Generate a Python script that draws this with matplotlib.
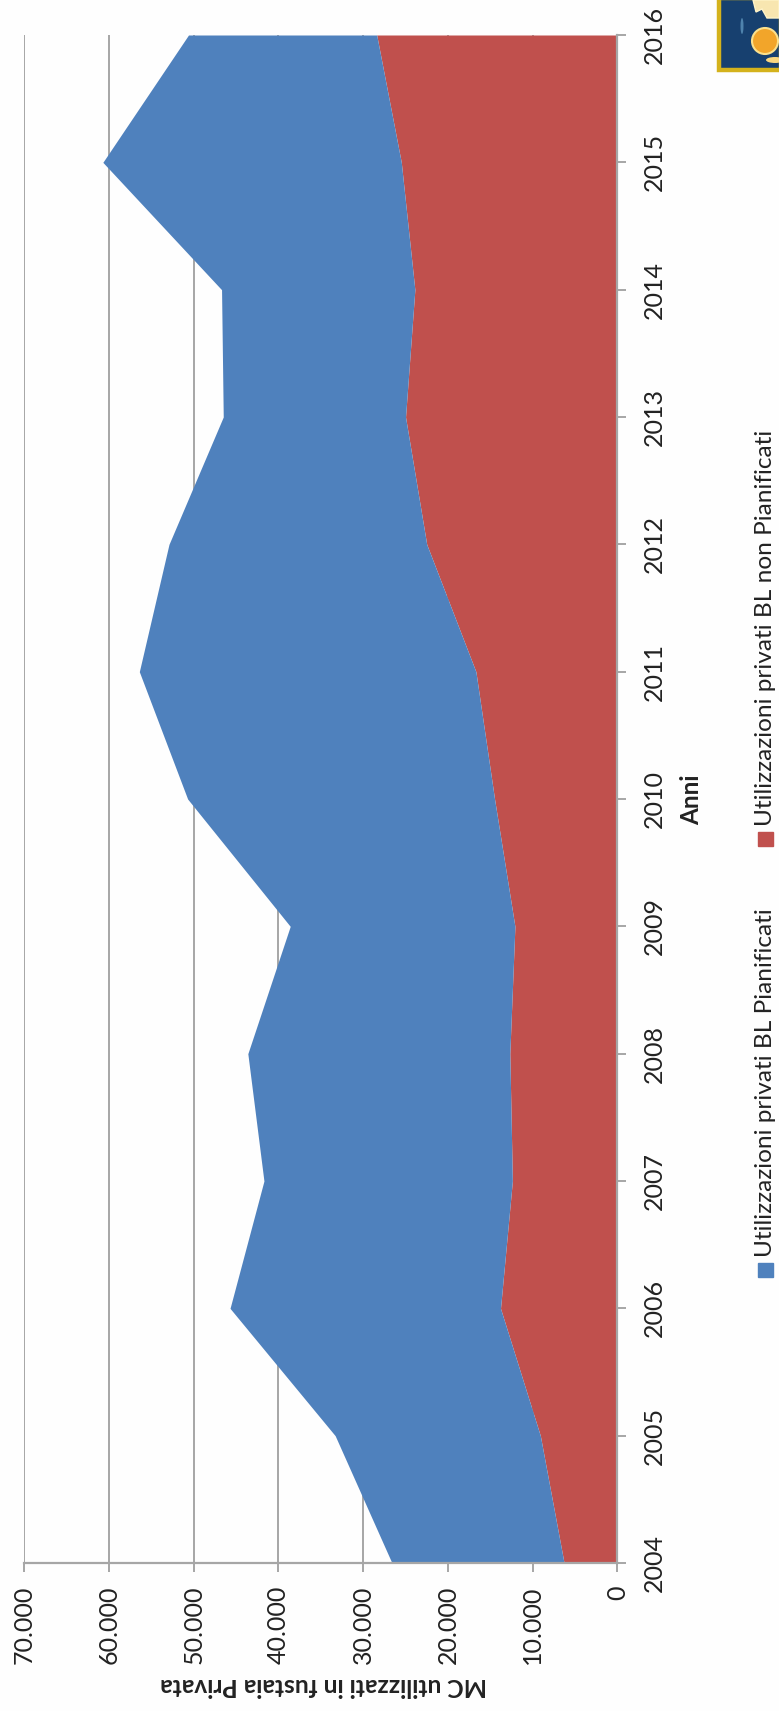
import matplotlib
matplotlib.use("Agg")
from matplotlib import pyplot as plt
from matplotlib.patches import Rectangle, Ellipse, Polygon

anni = [2004, 2005, 2006, 2007, 2008, 2009, 2010, 2011, 2012, 2013, 2014, 2015, 2016]
pianificati = [20300, 24200, 31900, 29300, 30900, 26500, 36200, 39700, 30400, 21500, 22800, 35200, 22200]
non_pianificati = [6300, 9100, 13800, 12400, 12700, 12100, 14500, 16700, 22500, 25000, 23900, 25500, 28400]
tick_valori = [0, 10000, 20000, 30000, 40000, 50000, 60000, 70000]
tick_etichette = ["0", "10.000", "20.000", "30.000", "40.000", "50.000", "60.000", "70.000"]

W, H = 779, 1711
plt.rcParams["font.family"] = ["Lato", "DejaVu Sans"]

fig = plt.figure(figsize=(W / 100, H / 100), dpi=100, facecolor="#fefefe")
# chart is turned on its side: values run right to left, years bottom to top
ax = fig.add_axes([24 / W, 1 - 1563 / H, (617.5 - 24) / W, (1563 - 35) / H], facecolor="#fefefe")

totale = [a + b for a, b in zip(pianificati, non_pianificati)]
ax.fill_betweenx(anni, 0, non_pianificati, color="#c0504d", lw=0, zorder=3)
ax.fill_betweenx(anni, non_pianificati, totale, color="#4f81bd", lw=0, zorder=3)

ax.set_xlim(70000, 0)
ax.set_ylim(2004, 2016)
ax.set_xticks(tick_valori)
ax.set_xticklabels(tick_etichette, rotation=90, fontsize=18, color="#222222")
ax.set_yticks(anni)
ax.set_yticklabels(anni, rotation=90, va="center", fontsize=18, color="#222222")
ax.yaxis.tick_right()
ax.xaxis.grid(True, color="#a6a6a6", lw=1.4, zorder=1)
ax.tick_params(axis="x", color="#a6a6a6", width=1.4, length=6.5, pad=9.5)
ax.tick_params(axis="y", color="#a6a6a6", width=1.4, length=6.5, pad=12)
for nome in ["top", "left"]:
    ax.spines[nome].set_visible(False)
for nome in ["bottom", "right"]:
    ax.spines[nome].set_color("#a6a6a6")
    ax.spines[nome].set_linewidth(1.6)
    ax.spines[nome].set_zorder(4)

fig.text(324 / W, 1 - 1685 / H, "MC utilizzati in fustaia Privata", rotation=180, fontsize=17.7,
         fontweight="bold", ha="center", va="center", color="#222222")
fig.text(692 / W, 1 - 800 / H, "Anni", rotation=90, fontsize=17.5, fontweight="bold",
         ha="center", va="center", color="#222222")

# legend is placed by hand, the text runs bottom to top
fig.patches.append(Rectangle((758 / W, 1 - 1277 / H), 15 / W, 14 / H, transform=fig.transFigure, color="#4f81bd"))
fig.text(766 / W, 1 - 1257 / H, "Utilizzazioni privati BL Pianificati", rotation=90, fontsize=17.6,
         ha="center", va="bottom", color="#222222")
fig.patches.append(Rectangle((758 / W, 1 - 846 / H), 15 / W, 14 / H, transform=fig.transFigure, color="#c0504d"))
fig.text(766 / W, 1 - 826 / H, "Utilizzazioni privati BL non Pianificati", rotation=90, fontsize=17.6,
         ha="center", va="bottom", color="#222222")

# crest in the top right corner
fig.patches.append(Rectangle((718.5 / W, 1 - 69.5 / H), 62 / W, 71 / H, transform=fig.transFigure,
                             facecolor="#17406f", edgecolor="#d4b21c", lw=3.2))
fig.patches.append(Ellipse((742 / W, 1 - 26 / H), 3 / W, 16 / H, transform=fig.transFigure,
                           facecolor="#4f83ad", lw=0))
fig.patches.append(Polygon([(753 / W, 1), (756 / W, 1 - 12 / H), (762 / W, 1 - 9 / H), (767 / W, 1 - 18 / H),
                            (779 / W, 1 - 18 / H), (779 / W, 1)],
                           transform=fig.transFigure, facecolor="#f8e6b0", edgecolor="#fff3c8", lw=1))
fig.patches.append(Ellipse((765 / W, 1 - 41 / H), 26 / W, 26 / H, transform=fig.transFigure,
                           facecolor="#f2a52a", edgecolor="#fbe08c", lw=1.5))
fig.patches.append(Ellipse((775 / W, 1 - 60 / H), 18 / W, 6 / H, transform=fig.transFigure,
                           facecolor="#fbd77e", lw=0))

fig.savefig("out.png", dpi=100, facecolor=fig.get_facecolor())
